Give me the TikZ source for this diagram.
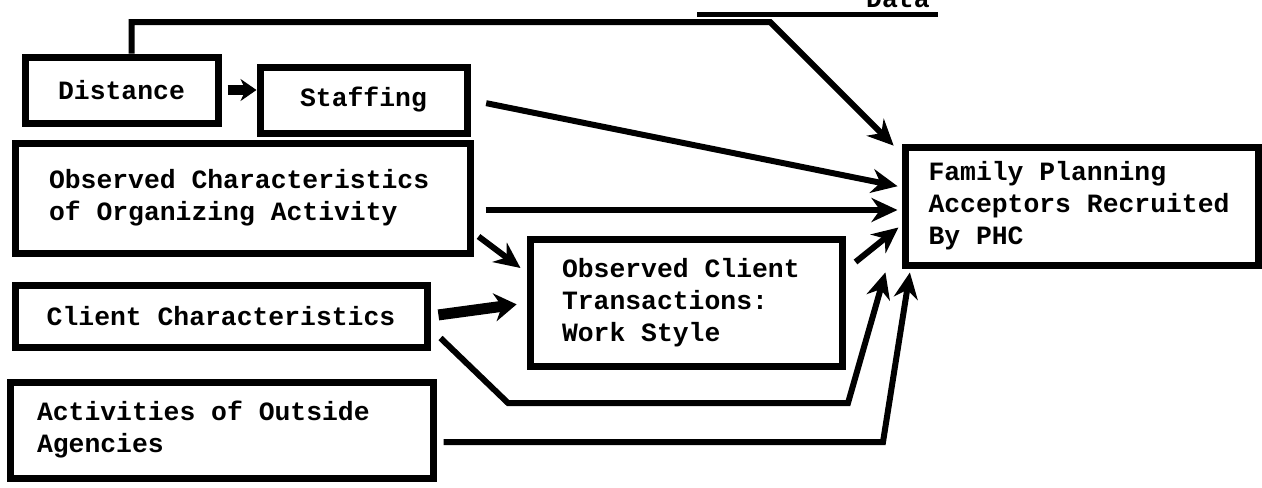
\documentclass[tikz,border=0pt]{standalone}
\usepackage{fontspec}
\setmonofont{Liberation Mono}
\usetikzlibrary{arrows.meta, calc}

\tikzset{
  box/.style={draw, line width=3.5pt, font=\ttfamily\bfseries\fontsize{13.2}{16}\selectfont},
  tbox/.style={box, align=flush left, inner xsep=16pt},
  link/.style={line width=3pt, -{Stealth[length=13pt,width=12pt]}},
  heavy/.style={line width=5.5pt, -{Stealth[length=11pt,width=14pt]}},
}

\begin{document}
\begin{tikzpicture}[x=0.5pt, y=-0.5pt]
\useasboundingbox (0,0) rectangle (1262,487);
\clip (0,0) rectangle (1262,487);

% heading, cut off at the top
\node[anchor=base east, font=\ttfamily\bfseries\fontsize{13.2}{16}\selectfont, inner sep=0pt] (head) at (930,8) {Data};
\draw[line width=2.5pt] (697,14) -- (938,14);

% boxes
\node[box, minimum width=96.5pt, minimum height=33pt] (dist) at (121.5,90) {Distance};
\node[box, minimum width=103.5pt, minimum height=33pt] (staff) at (363.5,100) {Staffing};
\node[tbox, inner xsep=17pt, text width=193.5pt, minimum height=55pt] (obschar) at (242.5,198)
  {Observed Characteristics\\of Organizing Activity};
\node[box, minimum width=206pt, minimum height=31pt] (client) at (221,316) {Client Characteristics};
\node[tbox, inner xsep=13.5pt, text width=184.5pt, minimum height=48pt] (act) at (221.5,430)
  {Activities of Outside\\Agencies};
\node[tbox, text width=124pt, minimum height=63.5pt] (obscl) at (686,303)
  {Observed Client\\Transactions:\\Work Style};
\node[tbox, inner xsep=11.75pt, text width=153pt, minimum height=59pt] (fp) at (1081.5,206)
  {Family Planning\\Acceptors Recruited\\By PHC};

% bend points
\coordinate (topbend) at (770,22);
\coordinate (cbend1) at (508,403);
\coordinate (cbend2) at (848,403);
\coordinate (abend) at (883,442);

% connectors
\draw[heavy, line width=5pt, -{Stealth[length=8pt,width=11pt]}, shorten <=3pt] (dist.east) -- (dist.east -| staff.west);
\draw[link, shorten >=2pt] ($(dist.north)+(10,0)$) |- (topbend) -- ($(fp.north west)+(-5,5)$);
\draw[link, shorten <=8pt, shorten >=2pt] (staff.east) -- ($(fp.west)+(0,-19)$);
\draw[link, shorten >=2pt] ($(obschar.east)+(12,12)$) -- ($(fp.west)+(0,4)$);
\draw[link] ($(obschar.south east)+(5,-20)$) -- ($(obscl.north west)+(-6,32)$);
\draw[heavy, shorten <=4pt, shorten >=5pt] (client.east) -- (obscl.west);
\draw[link, shorten >=2pt] ($(obscl.east)+(10,-41)$) -- ($(fp.west)+(0,19)$);
\draw[link, shorten >=2pt] ($(client.east)+(10,22)$) -- (cbend1) -- (cbend2) -- ($(fp.south west)+(-15,0)$);
\draw[link, shorten >=2pt] ($(act.east)+(7,12)$) -- (abend) -- ($(fp.south west)+(9,0)$);
\end{tikzpicture}
\end{document}
